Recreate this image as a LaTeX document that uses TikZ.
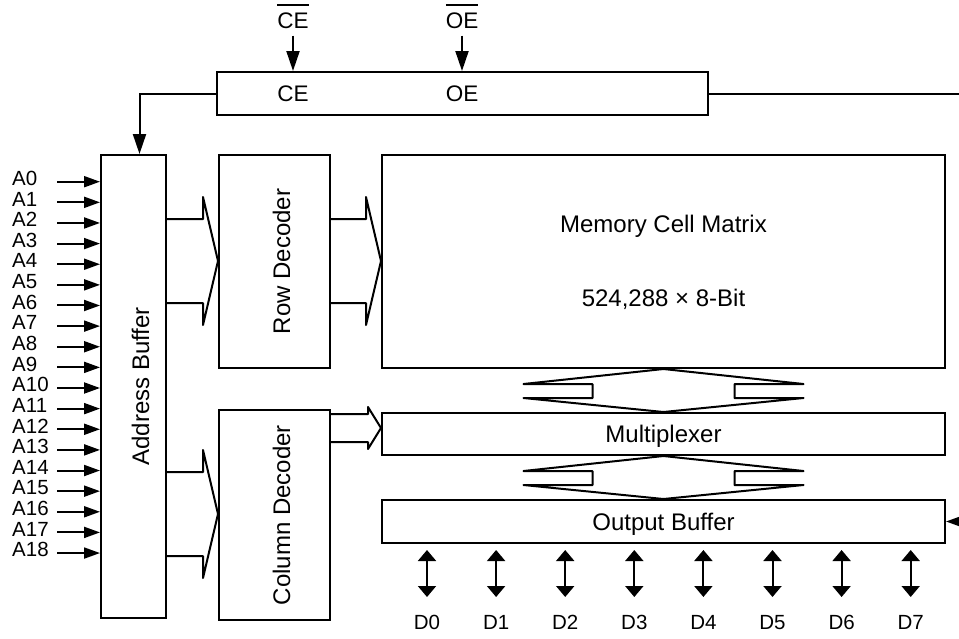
\documentclass[tikz,border=0pt]{standalone}
\usepackage{fontspec}
\setmainfont{Liberation Sans}
\usetikzlibrary{arrows.meta,positioning,calc}
\newsavebox{\ovlbox}
\newcommand{\ovl}[1]{\sbox{\ovlbox}{#1}\rlap{\raisebox{\dimexpr\ht\ovlbox+6.5pt\relax}{\rule{\wd\ovlbox}{1.8pt}}}\usebox{\ovlbox}}
% wide bus arrow: from, to, y top, y bottom, tick, neck
\newcommand{\hbus}[6]{%
  \draw[bus] (#1.east |- 0,#3) -- ($(#2.west |- 0,#3)+(-#6,0)$) -- ++(0,-#5)
    -- ($(#2.west |- 0,#3)!.5!(#2.west |- 0,#4)$)
    -- ($(#2.west |- 0,#4)+(-#6,#5)$) -- ++(0,-#5) -- (#1.east |- 0,#4);}
% two-way bus between stacked blocks
\newcommand{\vbus}[2]{%
  \draw[bus] ($(#1.south)+(-71,15)$) -- ++(-69,0) -- (#1.south)
    -- ($(#1.south)+(140,15)$) -- ++(-69,0)
    -- ($(#2.north)+(71,-14)$) -- ++(69,0) -- (#2.north)
    -- ($(#2.north)+(-140,-14)$) -- ++(69,0) -- cycle;}
\tikzset{
  wire/.style ={line width=2pt},
  blk/.style  ={draw,line width=2pt,inner sep=0pt},
  lbl/.style  ={font=\fontsize{24}{28}\selectfont,inner sep=0pt,
                text height=17.2pt,text depth=0pt},
  sig/.style  ={font=\fontsize{22.5}{26}\selectfont,inner sep=0pt,
                text height=16.1pt,text depth=0pt},
  pin/.style  ={font=\fontsize{20.5}{24}\selectfont,inner sep=0pt,
                text height=14.7pt,text depth=0pt},
  bus/.style  ={wire,line join=round},
  arr/.style  ={wire,-{Triangle[length=20pt,width=13pt]}},
  parr/.style ={wire,-{Triangle[length=16pt,width=11pt]}},
  darr/.style ={wire,{Triangle[length=11pt,width=18pt]}-{Triangle[length=11pt,width=18pt]}},
}
\begin{document}
\begin{tikzpicture}[x=1pt,y=-1pt]
\useasboundingbox (0,0) rectangle (959,638);
% blocks
\node[blk,minimum width=491,minimum height=43] (ctl) at (462.5,93.5) {};
\node[blk,minimum width=65,minimum height=463] (ab) at (133.5,386.5) {};
\node[blk,minimum width=111,minimum height=213,right=51pt of ab.north east,anchor=north west] (rd) {};
\node[blk,minimum width=111,minimum height=210,below=40pt of rd] (cd) {};
\node[blk,minimum width=563,minimum height=213,right=50pt of rd] (mem) {};
\node[blk,minimum width=563,minimum height=42,below=43pt of mem] (mux) {};
\node[blk,minimum width=563,minimum height=43,below=43pt of mux] (ob) {};
\coordinate (rt) at (959,0);
% texts
\node[lbl,rotate=90] (abt) at ($(ab)+(7,0)$) {Address Buffer};
\node[lbl,rotate=90] (rdt) at ($(rd)+(7,0)$) {Row Decoder};
\node[lbl,rotate=90] (cdt) at ($(cd)+(7,0)$) {Column Decoder};
\node[lbl] (memt) at ($(mem)+(0,-37.5)$) {Memory Cell Matrix};
\node[lbl] (mems) at ($(mem)+(0,36.5)$) {524,288 × 8-Bit};
\node[lbl] (muxt) at (mux) {Multiplexer};
\node[lbl] (obt) at (ob) {Output Buffer};
% control
\node[sig] (ce) at (293,93.5) {CE};
\node[sig] (oe) at (462,93.5) {OE};
\node[sig] (ceb) at (293,20.3) {\ovl{CE}};
\node[sig] (oeb) at (462,20.3) {\ovl{OE}};
\draw[arr] ($(ceb.south)+(0,7)$) -- (ceb.south |- ctl.north);
\draw[arr] ($(oeb.south)+(0,7)$) -- (oeb.south |- ctl.north);
\draw[arr] (ctl.west) -| ($(ab.north)+(6,0)$);
\draw[wire] (ctl.east) -- (ctl.east -| rt);
\draw[parr] (ob.east -| rt) -- (ob.east);
% buses
\hbus{ab}{rd}{219}{303}{22}{15}
\hbus{rd}{mem}{219}{303}{22}{15}
\hbus{ab}{cd}{472}{556}{22}{15}
\hbus{cd}{mux}{414}{442}{7}{13}
\vbus{mem}{mux}
\vbus{mux}{ob}
% address pins
\foreach \i in {0,...,18}{
  \coordinate (p\i) at (57,181.7+20.63*\i);
  \node[pin,anchor=west] (a\i) at (12,178.1+20.63*\i) {A\i};
  \draw[parr] (p\i) -- (p\i -| ab.west);
}
% data pins
\foreach \i in {0,...,7}{
  \node[pin] (d\i) at (427+69.1*\i,622) {D\i};
  \draw[darr] ($(ob.south -| d\i)+(0,6)$) -- ++(0,47);
}
\end{tikzpicture}
\end{document}
